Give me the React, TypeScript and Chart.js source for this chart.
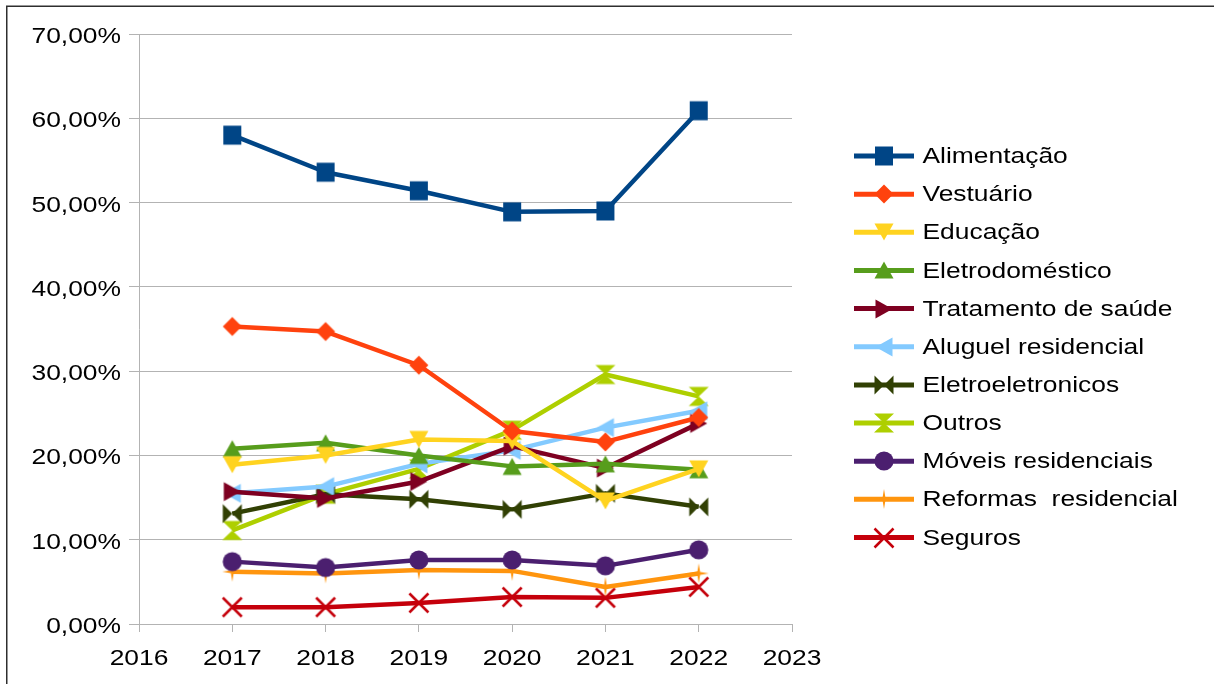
import React, { useEffect, useRef } from 'react';
import { Chart, registerables } from 'chart.js';

Chart.register(...registerables);

// ---- data ----
const years = [2017, 2018, 2019, 2020, 2021, 2022];
const xAxisYears = [2016, 2017, 2018, 2019, 2020, 2021, 2022, 2023];
const yTickLabels = ['0,00%', '10,00%', '20,00%', '30,00%', '40,00%', '50,00%', '60,00%', '70,00%'];
const yTickValues = [0, 10, 20, 30, 40, 50, 60, 70];

const seriesNames = [
  'Alimentação',
  'Vestuário',
  'Educação',
  'Eletrodoméstico',
  'Tratamento de saúde',
  'Aluguel residencial',
  'Eletroeletronicos',
  'Outros',
  'Móveis residenciais',
  'Reformas  residencial',
  'Seguros',
];

const alimentacao = [58.0, 53.6, 51.4, 48.9, 49.0, 60.9];
const vestuario = [35.3, 34.7, 30.7, 22.9, 21.6, 24.5];
const educacao = [18.9, 20.0, 21.9, 21.7, 14.6, 18.4];
const eletrodomestico = [20.8, 21.5, 20.0, 18.7, 19.0, 18.3];
const tratamentoSaude = [15.7, 14.9, 16.9, 21.1, 18.5, 23.8];
const aluguelResidencial = [15.5, 16.3, 19.0, 20.6, 23.3, 25.3];
const eletroeletronicos = [13.1, 15.4, 14.8, 13.6, 15.5, 13.9];
const outros = [11.1, 15.4, 18.4, 23.0, 29.6, 27.0];
const moveisResidenciais = [7.4, 6.7, 7.6, 7.6, 6.9, 8.8];
const reformasResidencial = [6.2, 6.0, 6.4, 6.3, 4.4, 6.0];
const seguros = [2.0, 2.0, 2.5, 3.2, 3.1, 4.4];

const seriesValues = [
  alimentacao,
  vestuario,
  educacao,
  eletrodomestico,
  tratamentoSaude,
  aluguelResidencial,
  eletroeletronicos,
  outros,
  moveisResidenciais,
  reformasResidencial,
  seguros,
];

const seriesColors = [
  '#004586',
  '#ff420e',
  '#ffd320',
  '#579d1c',
  '#7e0021',
  '#83caff',
  '#314004',
  '#aecf00',
  '#4b1f6f',
  '#ff950e',
  '#c5000b',
];

const markerKinds = [
  'square',
  'diamond',
  'triDown',
  'triUp',
  'triRight',
  'triLeft',
  'bowtie',
  'hourglass',
  'circle',
  'star',
  'cross',
];

const FONT = '"Liberation Sans", Arial, sans-serif';
const TEXT_STRETCH = 1.2;

function makeMarker(kind: string, color: string): HTMLCanvasElement {
  const S = 28;
  const c = document.createElement('canvas');
  c.width = S;
  c.height = S;
  const g = c.getContext('2d')!;
  const m = S / 2;
  g.fillStyle = color;
  g.strokeStyle = color;
  g.beginPath();
  switch (kind) {
    case 'square':
      g.rect(m - 9, m - 9.5, 18, 19);
      break;
    case 'diamond':
      g.moveTo(m, m - 9.5);
      g.lineTo(m + 9.5, m);
      g.lineTo(m, m + 9.5);
      g.lineTo(m - 9.5, m);
      g.closePath();
      break;
    case 'triDown':
      g.moveTo(m - 9.5, m - 8.5);
      g.lineTo(m + 9.5, m - 8.5);
      g.lineTo(m, m + 8.5);
      g.closePath();
      break;
    case 'triUp':
      g.moveTo(m - 9.5, m + 8.5);
      g.lineTo(m + 9.5, m + 8.5);
      g.lineTo(m, m - 8.5);
      g.closePath();
      break;
    case 'triRight':
      g.moveTo(m - 8.5, m - 9.5);
      g.lineTo(m - 8.5, m + 9.5);
      g.lineTo(m + 8.5, m);
      g.closePath();
      break;
    case 'triLeft':
      g.moveTo(m + 8.5, m - 9.5);
      g.lineTo(m + 8.5, m + 9.5);
      g.lineTo(m - 8.5, m);
      g.closePath();
      break;
    case 'bowtie':
      g.moveTo(m - 9.5, m - 9.5);
      g.lineTo(m - 9.5, m + 9.5);
      g.lineTo(m, m);
      g.closePath();
      g.moveTo(m + 9.5, m - 9.5);
      g.lineTo(m + 9.5, m + 9.5);
      g.lineTo(m, m);
      g.closePath();
      break;
    case 'hourglass':
      g.moveTo(m - 10, m - 9.5);
      g.lineTo(m + 10, m - 9.5);
      g.lineTo(m, m);
      g.closePath();
      g.moveTo(m - 10, m + 9.5);
      g.lineTo(m + 10, m + 9.5);
      g.lineTo(m, m);
      g.closePath();
      break;
    case 'circle':
      g.arc(m, m, 9.6, 0, Math.PI * 2);
      break;
    case 'star': {
      const outer = 10;
      const inner = 2;
      for (let k = 0; k < 8; k++) {
        const a = (k * Math.PI) / 4 - Math.PI / 2;
        const r = k % 2 === 0 ? outer : inner;
        const px = m + Math.cos(a) * r;
        const py = m + Math.sin(a) * r;
        if (k === 0) g.moveTo(px, py);
        else g.lineTo(px, py);
      }
      g.closePath();
      break;
    }
    case 'cross':
      g.lineWidth = 2.5;
      g.moveTo(m - 9.5, m - 9.5);
      g.lineTo(m + 9.5, m + 9.5);
      g.moveTo(m + 9.5, m - 9.5);
      g.lineTo(m - 9.5, m + 9.5);
      g.stroke();
      return c;
  }
  g.fill();
  return c;
}

export default function App() {
  const ref = useRef<HTMLCanvasElement>(null);

  useEffect(() => {
    const canvas = ref.current!;
    const markers = seriesColors.map((col, i) => makeMarker(markerKinds[i], col));

    // horizontally stretched text, as in the reference rendering
    const ctx0 = canvas.getContext('2d')! as any;
    const origFillText = ctx0.fillText.bind(ctx0);
    ctx0.fillText = function (t: string, x: number, y: number, mw?: number) {
      ctx0.save();
      ctx0.translate(x, y);
      ctx0.scale(TEXT_STRETCH, 1);
      if (mw === undefined || mw === null) origFillText(t, 0, 0);
      else origFillText(t, 0, 0, mw / TEXT_STRETCH);
      ctx0.restore();
    };

    const datasets = seriesValues.map((vals, i) => ({
      label: seriesNames[i],
      data: vals.map((v, j) => ({ x: years[j], y: v })),
      borderColor: seriesColors[i],
      backgroundColor: seriesColors[i],
      borderWidth: 4.5,
      borderJoinStyle: 'round' as const,
      pointStyle: markers[i] as any,
      pointRadius: 10,
      pointHoverRadius: 10,
      tension: 0,
      fill: false,
    }));

    const framePlugin = {
      id: 'frame',
      beforeDraw(chart: any) {
        const ctx = chart.ctx as CanvasRenderingContext2D;
        ctx.save();
        ctx.fillStyle = '#ffffff';
        ctx.fillRect(0, 0, chart.width, chart.height);
        ctx.strokeStyle = '#2e2e2e';
        ctx.lineWidth = 1.5;
        ctx.beginPath();
        ctx.moveTo(6.75, chart.height);
        ctx.lineTo(6.75, 6.25);
        ctx.lineTo(chart.width, 6.25);
        ctx.stroke();
        ctx.restore();
      },
      afterDraw(chart: any) {
        const ctx = chart.ctx as CanvasRenderingContext2D;
        ctx.save();
        const x0 = 854;
        const x1 = 914;
        const textX = 922.5;
        const firstY = 156;
        const step = 38.15;
        seriesNames.forEach((name, i) => {
          const y = firstY + i * step;
          ctx.strokeStyle = seriesColors[i];
          ctx.lineWidth = 5;
          ctx.lineCap = 'butt';
          ctx.beginPath();
          ctx.moveTo(x0, y);
          ctx.lineTo(x1, y);
          ctx.stroke();
          const mk = markers[i];
          ctx.drawImage(mk, Math.round((x0 + x1) / 2 - mk.width / 2), Math.round(y - mk.height / 2));
          ctx.fillStyle = '#000000';
          ctx.font = `22px ${FONT}`;
          ctx.textBaseline = 'middle';
          ctx.textAlign = 'left';
          ctx.fillText(name, textX, y + 1);
        });
        ctx.restore();
      },
    };

    const chart = new Chart(canvas, {
      type: 'line',
      data: { datasets },
      options: {
        animation: false,
        responsive: false,
        maintainAspectRatio: false,
        layout: { padding: { top: 34, right: 422, left: 0, bottom: 0 } },
        plugins: {
          legend: { display: false },
          tooltip: { enabled: false },
        },
        scales: {
          x: {
            type: 'linear',
            min: xAxisYears[0],
            max: xAxisYears[xAxisYears.length - 1],
            afterFit: (scale: any) => {
              scale.height = 60;
            },
            afterBuildTicks: (scale: any) => {
              scale.ticks = xAxisYears.map((v) => ({ value: v }));
            },
            ticks: {
              stepSize: 1,
              autoSkip: false,
              maxRotation: 0,
              padding: 14,
              color: '#000000',
              font: { family: FONT, size: 22 },
              callback: (v: any) => String(v),
            },
            grid: {
              display: true,
              drawOnChartArea: false,
              drawTicks: true,
              tickLength: 8,
              color: '#b3b3b3',
              lineWidth: 1,
            },
            border: { display: true, color: '#b3b3b3', width: 1 },
          },
          y: {
            type: 'linear',
            min: yTickValues[0],
            max: yTickValues[yTickValues.length - 1],
            afterFit: (scale: any) => {
              scale.width = 139;
            },
            afterBuildTicks: (scale: any) => {
              scale.ticks = yTickValues.map((v) => ({ value: v }));
            },
            ticks: {
              stepSize: 10,
              padding: 8,
              labelOffset: 3,
              color: '#000000',
              font: { family: FONT, size: 22 },
              callback: (v: any) => {
                const idx = yTickValues.indexOf(Number(v));
                return idx >= 0 ? yTickLabels[idx] : '';
              },
            },
            grid: {
              display: true,
              drawTicks: true,
              tickLength: 10,
              color: '#b3b3b3',
              lineWidth: 1,
            },
            border: { display: true, color: '#b3b3b3', width: 1 },
          },
        },
      },
      plugins: [framePlugin],
    });

    return () => chart.destroy();
  }, []);

  return (
    <canvas
      ref={ref}
      width={1214}
      height={684}
      style={{ position: 'fixed', left: 0, top: 0, display: 'block', background: '#ffffff' }}
    />
  );
}
